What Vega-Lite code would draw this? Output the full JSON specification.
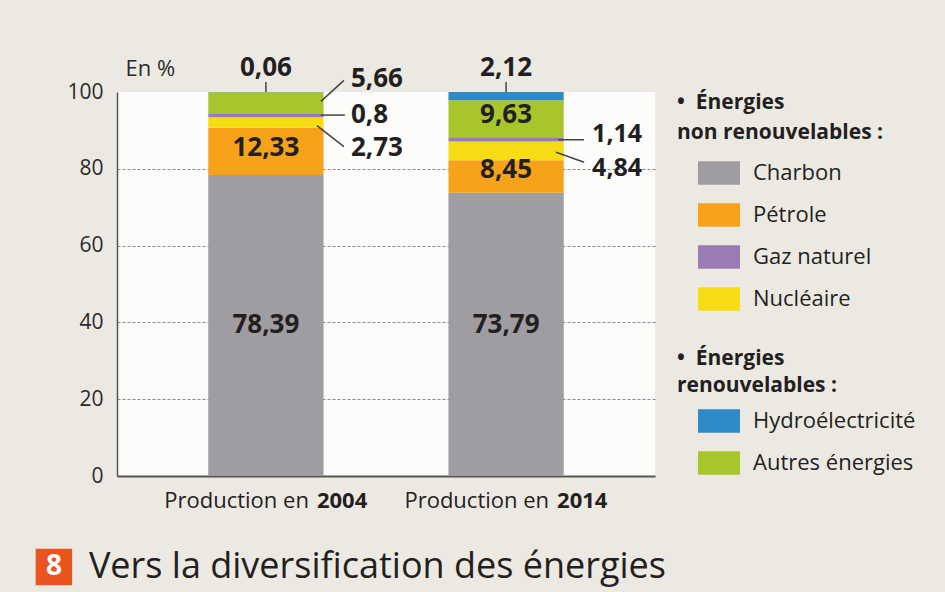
{
  "$schema": "https://vega.github.io/schema/vega-lite/v6.json",
  "width": 538,
  "height": 384,
  "autosize": {"type": "none"},
  "padding": {"left": 117, "top": 92, "right": 290, "bottom": 116},
  "background": "#ECE9E3",
  "config": {
    "view": {"fill": "#FCFCFB", "stroke": null},
    "font": "Open Sans",
    "text": {"font": "Open Sans", "color": "#231F20"}
  },
  "data": {
    "values": [
      {"year": "2004", "energy": "Charbon", "value": 78.39, "label": "78,39", "order": 1},
      {"year": "2004", "energy": "Pétrole", "value": 12.33, "label": "12,33", "order": 2},
      {"year": "2004", "energy": "Nucléaire", "value": 2.73, "label": "2,73", "order": 3},
      {"year": "2004", "energy": "Gaz naturel", "value": 0.8, "label": "0,8", "order": 4},
      {"year": "2004", "energy": "Autres énergies", "value": 5.66, "label": "5,66", "order": 5},
      {"year": "2004", "energy": "Hydroélectricité", "value": 0.06, "label": "0,06", "order": 6},
      {"year": "2014", "energy": "Charbon", "value": 73.79, "label": "73,79", "order": 1},
      {"year": "2014", "energy": "Pétrole", "value": 8.45, "label": "8,45", "order": 2},
      {"year": "2014", "energy": "Nucléaire", "value": 4.84, "label": "4,84", "order": 3},
      {"year": "2014", "energy": "Gaz naturel", "value": 1.14, "label": "1,14", "order": 4},
      {"year": "2014", "energy": "Autres énergies", "value": 9.63, "label": "9,63", "order": 5},
      {"year": "2014", "energy": "Hydroélectricité", "value": 2.12, "label": "2,12", "order": 6}
    ]
  },
  "transform": [
    {"stack": "value", "groupby": ["year"], "sort": [{"field": "order", "order": "ascending"}], "as": ["y0", "y1"]}
  ],
  "resolve": {"axis": {"y": "independent"}},
  "encoding": {
    "x": {
      "field": "year",
      "type": "nominal",
      "scale": {"domain": ["2004", "2014"], "paddingInner": 0.52, "paddingOuter": 0.38},
      "axis": {"labels": false, "ticks": false, "title": null, "domainColor": "#555", "domainWidth": 2}
    }
  },
  "layer": [
    {
      "transform": [{"filter": {"field": "energy", "oneOf": ["Charbon", "Pétrole", "Gaz naturel", "Nucléaire"]}}],
      "mark": {"type": "bar"},
      "encoding": {
        "y": {
          "field": "y1",
          "type": "quantitative",
          "scale": {"domain": [0, 100], "nice": false},
          "axis": {
            "values": [0, 20, 40, 60, 80, 100],
            "grid": true,
            "gridColor": "#8A8A8A",
            "gridDash": [3, 2],
            "gridWidth": 1,
            "gridOpacity": {"condition": {"test": "datum.value === 100 || datum.value === 0", "value": 0}, "value": 1},
            "ticks": false,
            "labelPadding": 14,
            "labelFontSize": 21,
            "labelColor": "#2A2A2A",
            "domainColor": "#555",
            "domainWidth": 1.5,
            "title": "En %",
            "titleAngle": 0,
            "titleFontSize": 22,
            "titleFontWeight": "normal",
            "titleColor": "#2A2A2A",
            "titleX": 8,
            "titleY": -24,
            "titleAlign": "left",
            "titleBaseline": "middle"
          }
        },
        "y2": {"field": "y0"},
        "color": {
          "field": "energy",
          "type": "nominal",
          "scale": {
            "domain": ["Charbon", "Pétrole", "Gaz naturel", "Nucléaire"],
            "range": ["#9F9DA1", "#F7A21B", "#9A7CB4", "#F5DC14"]
          },
          "legend": {
            "orient": "none",
            "legendX": 560,
            "legendY": 0,
            "title": ["•\u00a0\u00a0Énergies", "\u00a0\u00a0\u00a0\u00a0non renouvelables :"],
            "titleFontSize": 21,
            "titleFontWeight": "bold",
            "titleColor": "#231F20",
            "titleLineHeight": 30,
            "titlePadding": 9,
            "titleLimit": 400,
            "symbolType": "M-1,-0.56H1V0.56H-1Z",
            "symbolSize": 1764,
            "symbolOffset": 21,
            "symbolStrokeWidth": 0,
            "symbolOpacity": 1,
            "labelFontSize": 22,
            "labelColor": "#231F20",
            "labelOffset": 13,
            "labelLimit": 300,
            "rowPadding": 9
          }
        }
      }
    },
    {
      "transform": [{"filter": {"field": "energy", "oneOf": ["Hydroélectricité", "Autres énergies"]}}],
      "mark": {"type": "bar"},
      "encoding": {
        "y": {"field": "y1", "type": "quantitative", "axis": null},
        "y2": {"field": "y0"},
        "fill": {
          "field": "energy",
          "type": "nominal",
          "scale": {
            "domain": ["Hydroélectricité", "Autres énergies"],
            "range": ["#2E8BC8", "#A8C62C"]
          },
          "legend": {
            "orient": "none",
            "legendX": 560,
            "legendY": 256,
            "title": ["•\u00a0\u00a0Énergies", "\u00a0\u00a0\u00a0\u00a0renouvelables :"],
            "titleFontSize": 21,
            "titleFontWeight": "bold",
            "titleColor": "#231F20",
            "titleLineHeight": 27,
            "titlePadding": 4,
            "titleLimit": 400,
            "symbolType": "M-1,-0.56H1V0.56H-1Z",
            "symbolSize": 1764,
            "symbolOffset": 21,
            "symbolStrokeWidth": 0,
            "symbolOpacity": 1,
            "labelFontSize": 22,
            "labelColor": "#231F20",
            "labelOffset": 13,
            "labelLimit": 300,
            "rowPadding": 9
          }
        }
      }
    },
    {
      "transform": [{"filter": {"field": "energy", "equal": "Charbon"}}],
      "mark": {"type": "text", "fontSize": 26, "fontWeight": "bold", "align": "center", "baseline": "middle", "dy": -151},
      "encoding": {
        "y": {"field": "y0", "type": "quantitative", "axis": null},
        "text": {"field": "label"}
      }
    },
    {
      "transform": [{"filter": "datum.year == '2004' && datum.energy == 'Pétrole'"}],
      "mark": {"type": "text", "fontSize": 26, "fontWeight": "bold", "align": "center", "baseline": "middle", "dy": -27},
      "encoding": {
        "y": {"field": "y0", "type": "quantitative", "axis": null},
        "text": {"field": "label"}
      }
    },
    {
      "transform": [{"filter": "datum.year == '2014' && (datum.energy == 'Pétrole' || datum.energy == 'Autres énergies')"}],
      "mark": {"type": "text", "fontSize": 26, "fontWeight": "bold", "align": "center", "baseline": "middle", "dy": -22.5},
      "encoding": {
        "y": {"field": "y0", "type": "quantitative", "axis": null},
        "text": {"field": "label"}
      }
    },
    {
      "transform": [{"filter": {"field": "energy", "equal": "Hydroélectricité"}}],
      "mark": {"type": "text", "fontSize": 26, "fontWeight": "bold", "align": "center", "baseline": "middle", "dy": -24},
      "encoding": {
        "y": {"field": "y1", "type": "quantitative", "axis": null},
        "text": {"field": "label"}
      }
    },
    {
      "transform": [{"filter": {"field": "energy", "equal": "Hydroélectricité"}}],
      "mark": {"type": "rule", "color": "#444", "strokeWidth": 1.5, "y2Offset": -10},
      "encoding": {
        "y": {"field": "y1", "type": "quantitative", "axis": null},
        "y2": {"field": "y1"}
      }
    },
    {
      "transform": [{"filter": "datum.year == '2004' && datum.energy == 'Autres énergies'"}],
      "mark": {"type": "text", "fontSize": 26, "fontWeight": "bold", "align": "left", "baseline": "middle", "dx": 85, "dy": -13},
      "encoding": {
        "y": {"field": "y1", "type": "quantitative", "axis": null},
        "text": {"field": "label"}
      }
    },
    {
      "transform": [{"filter": "datum.year == '2004' && datum.energy == 'Autres énergies'"}],
      "mark": {"type": "rule", "color": "#444", "strokeWidth": 1.5, "xOffset": 55, "x2Offset": 78, "yOffset": 9, "y2Offset": -12},
      "encoding": {
        "x2": {"field": "year"},
        "y": {"field": "y1", "type": "quantitative", "axis": null},
        "y2": {"field": "y1"}
      }
    },
    {
      "transform": [{"filter": "datum.year == '2004' && datum.energy == 'Gaz naturel'"}],
      "mark": {"type": "text", "fontSize": 26, "fontWeight": "bold", "align": "left", "baseline": "middle", "dx": 85, "dy": 1},
      "encoding": {
        "y": {"field": "y1", "type": "quantitative", "axis": null},
        "text": {"field": "label"}
      }
    },
    {
      "transform": [{"filter": "datum.year == '2004' && datum.energy == 'Gaz naturel'"}],
      "mark": {"type": "rule", "color": "#444", "strokeWidth": 1.5, "xOffset": 55, "x2Offset": 79, "yOffset": 1, "y2Offset": 1},
      "encoding": {
        "x2": {"field": "year"},
        "y": {"field": "y1", "type": "quantitative", "axis": null},
        "y2": {"field": "y1"}
      }
    },
    {
      "transform": [{"filter": "datum.year == '2004' && datum.energy == 'Nucléaire'"}],
      "mark": {"type": "text", "fontSize": 26, "fontWeight": "bold", "align": "left", "baseline": "middle", "dx": 85, "dy": 20},
      "encoding": {
        "y": {"field": "y0", "type": "quantitative", "axis": null},
        "text": {"field": "label"}
      }
    },
    {
      "transform": [{"filter": "datum.year == '2004' && datum.energy == 'Nucléaire'"}],
      "mark": {"type": "rule", "color": "#444", "strokeWidth": 1.5, "xOffset": 51, "x2Offset": 78, "yOffset": -2, "y2Offset": 19},
      "encoding": {
        "x2": {"field": "year"},
        "y": {"field": "y0", "type": "quantitative", "axis": null},
        "y2": {"field": "y0"}
      }
    },
    {
      "transform": [{"filter": "datum.year == '2014' && datum.energy == 'Gaz naturel'"}],
      "mark": {"type": "text", "fontSize": 25, "fontWeight": "bold", "align": "left", "baseline": "middle", "dx": 86, "dy": -3},
      "encoding": {
        "y": {"field": "y1", "type": "quantitative", "axis": null},
        "text": {"field": "label"}
      }
    },
    {
      "transform": [{"filter": "datum.year == '2014' && datum.energy == 'Gaz naturel'"}],
      "mark": {"type": "rule", "color": "#444", "strokeWidth": 1.5, "xOffset": 52, "x2Offset": 78, "yOffset": 2.5, "y2Offset": 2.5},
      "encoding": {
        "x2": {"field": "year"},
        "y": {"field": "y1", "type": "quantitative", "axis": null},
        "y2": {"field": "y1"}
      }
    },
    {
      "transform": [{"filter": "datum.year == '2014' && datum.energy == 'Nucléaire'"}],
      "mark": {"type": "text", "fontSize": 25, "fontWeight": "bold", "align": "left", "baseline": "middle", "dx": 86, "dy": 8},
      "encoding": {
        "y": {"field": "y0", "type": "quantitative", "axis": null},
        "text": {"field": "label"}
      }
    },
    {
      "transform": [{"filter": "datum.year == '2014' && datum.energy == 'Nucléaire'"}],
      "mark": {"type": "rule", "color": "#444", "strokeWidth": 1.5, "xOffset": 50, "x2Offset": 78, "yOffset": -8, "y2Offset": 2},
      "encoding": {
        "x2": {"field": "year"},
        "y": {"field": "y0", "type": "quantitative", "axis": null},
        "y2": {"field": "y0"}
      }
    },
    {
      "transform": [{"filter": {"field": "energy", "equal": "Charbon"}}],
      "mark": {"type": "text", "fontSize": 22, "align": "right", "baseline": "middle", "dx": 43, "dy": 25, "color": "#231F20"},
      "encoding": {
        "y": {"field": "y0", "type": "quantitative", "axis": null},
        "text": {"value": "Production en"}
      }
    },
    {
      "transform": [{"filter": {"field": "energy", "equal": "Charbon"}}],
      "mark": {"type": "text", "fontSize": 22, "fontWeight": "bold", "align": "left", "baseline": "middle", "dx": 51, "dy": 25, "color": "#231F20"},
      "encoding": {
        "y": {"field": "y0", "type": "quantitative", "axis": null},
        "text": {"field": "year"}
      }
    },
    {
      "transform": [{"filter": "datum.year == '2004' && datum.energy == 'Charbon'"}],
      "mark": {"type": "square", "color": "#E9541F", "opacity": 1, "size": 1330, "xOffset": -212, "yOffset": 91},
      "encoding": {
        "y": {"field": "y0", "type": "quantitative", "axis": null}
      }
    },
    {
      "transform": [{"filter": "datum.year == '2004' && datum.energy == 'Charbon'"}],
      "mark": {"type": "text", "fontSize": 28, "fontWeight": "bold", "color": "#FFFFFF", "align": "center", "baseline": "middle", "dx": -212, "dy": 91},
      "encoding": {
        "y": {"field": "y0", "type": "quantitative", "axis": null},
        "text": {"value": "8"}
      }
    },
    {
      "transform": [{"filter": "datum.year == '2004' && datum.energy == 'Charbon'"}],
      "mark": {"type": "text", "fontSize": 36, "color": "#231F20", "align": "left", "baseline": "middle", "dx": -177, "dy": 91},
      "encoding": {
        "y": {"field": "y0", "type": "quantitative", "axis": null},
        "text": {"value": "Vers la diversification des énergies"}
      }
    }
  ]
}
